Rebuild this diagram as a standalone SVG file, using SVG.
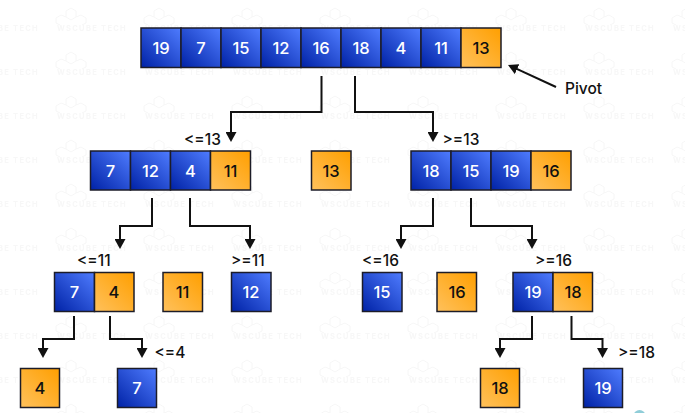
<svg xmlns="http://www.w3.org/2000/svg" width="685" height="413" viewBox="0 0 685 413">
<style>
text{font-family:"Inter","Liberation Sans",sans-serif}
.c{stroke:#1c1c28;stroke-width:1.5}
.b{fill:url(#bl)}
.o{fill:url(#or)}
.v{font-size:16.500px;font-weight:500;text-anchor:middle;dominant-baseline:central}
.w{fill:#fff}
.k{fill:#111}
.l{font-size:15.500px;font-weight:500;fill:#111}
.cn{fill:none;stroke:#111;stroke-width:2;marker-end:url(#a)}
.wm{fill:none;stroke:#f6f6f6;stroke-width:1}
.wt{font-size:7.500px;font-weight:700;letter-spacing:1.300px;fill:#f7f7f7}
</style>
<defs>
<linearGradient id="bl" x1="0" y1="1" x2="1" y2="0"><stop offset="0" stop-color="#0022a6"/><stop offset="1" stop-color="#4f7cff"/></linearGradient>
<linearGradient id="or" x1="0" y1="1" x2="1" y2="0"><stop offset="0" stop-color="#ffc15c"/><stop offset="1" stop-color="#ff9f00"/></linearGradient>
<marker id="a" markerWidth="10" markerHeight="11" refX="1" refY="5.500" orient="auto" markerUnits="userSpaceOnUse" viewBox="0 0 10 11"><path d="M0 0L10 5.500L0 11Z" fill="#111"/></marker>
<pattern id="wmp" x="50" y="0" width="88" height="44" patternUnits="userSpaceOnUse">
<path class="wm" d="M16 11l5-3 5 3v6l-5 3-5-3zM16 17l-5-2-5 3v5l4 2M26 17l5-2 5 3v5l-4 2"/>
<text class="wt" x="7" y="31">WSCUBE TECH</text>
</pattern>
</defs>
<rect width="685" height="413" fill="#fff"/>
<rect width="685" height="413" fill="url(#wmp)"/>
<circle cx="639.500" cy="416" r="6" fill="#8fcdd8"/>
<g id="connectors">
<path class="cn" d="M321.500 76V112H231V133"/>
<path class="cn" d="M355 76V112H433V133"/>
<path class="cn" d="M152 198V226H120V240"/>
<path class="cn" d="M190 198V226H250V240"/>
<path class="cn" d="M433 198V226H401V240"/>
<path class="cn" d="M471 198V226H532V240"/>
<path class="cn" d="M74 316V339H43V349"/>
<path class="cn" d="M110 316V339H142V349"/>
<path class="cn" d="M532 316V339H500V349"/>
<path class="cn" d="M571.500 316V339H602.500V349"/>
<path class="cn" d="M556 87L516.200 68.700"/>
</g>
<g id="root-array">
<rect class="b c" x="141" y="28" width="40" height="39.500"/><text class="v w" x="161" y="48">19</text>
<rect class="b c" x="181" y="28" width="40" height="39.500"/><text class="v w" x="201" y="48">7</text>
<rect class="b c" x="221" y="28" width="40" height="39.500"/><text class="v w" x="241" y="48">15</text>
<rect class="b c" x="261" y="28" width="40" height="39.500"/><text class="v w" x="281" y="48">12</text>
<rect class="b c" x="301" y="28" width="40" height="39.500"/><text class="v w" x="321" y="48">16</text>
<rect class="b c" x="341" y="28" width="40" height="39.500"/><text class="v w" x="361" y="48">18</text>
<rect class="b c" x="381" y="28" width="40" height="39.500"/><text class="v w" x="401" y="48">4</text>
<rect class="b c" x="421" y="28" width="40" height="39.500"/><text class="v w" x="441" y="48">11</text>
<rect class="o c" x="461" y="28" width="40" height="39.500"/><text class="v k" x="481" y="48">13</text>
</g>
<g id="left-array">
<rect class="b c" x="90.500" y="151" width="40" height="39"/><text class="v w" x="110.500" y="171">7</text>
<rect class="b c" x="130.500" y="151" width="40" height="39"/><text class="v w" x="150.500" y="171">12</text>
<rect class="b c" x="170.500" y="151" width="40" height="39"/><text class="v w" x="190.500" y="171">4</text>
<rect class="o c" x="210.500" y="151" width="40" height="39"/><text class="v k" x="230.500" y="171">11</text>
</g>
<g id="pivot-13"><rect class="o c" x="311.500" y="151" width="39.500" height="39"/><text class="v k" x="331" y="171">13</text></g>
<g id="right-array">
<rect class="b c" x="411" y="151" width="40" height="39"/><text class="v w" x="431" y="171">18</text>
<rect class="b c" x="451" y="151" width="40" height="39"/><text class="v w" x="471" y="171">15</text>
<rect class="b c" x="491" y="151" width="40" height="39"/><text class="v w" x="511" y="171">19</text>
<rect class="o c" x="531" y="151" width="40" height="39"/><text class="v k" x="551" y="171">16</text>
</g>
<g id="pair-7-4">
<rect class="b c" x="54.500" y="272.500" width="40" height="39"/><text class="v w" x="74.500" y="292">7</text>
<rect class="o c" x="94.500" y="272.500" width="39.500" height="39"/><text class="v k" x="114" y="292">4</text>
</g>
<g id="pivot-11"><rect class="o c" x="163" y="272.500" width="39.500" height="39"/><text class="v k" x="182.500" y="292">11</text></g>
<g id="leaf-12"><rect class="b c" x="231.500" y="272.500" width="39.500" height="39"/><text class="v w" x="251" y="292">12</text></g>
<g id="leaf-15"><rect class="b c" x="362.500" y="272.500" width="39.500" height="39"/><text class="v w" x="382" y="292">15</text></g>
<g id="pivot-16"><rect class="o c" x="437" y="272.500" width="39.500" height="39"/><text class="v k" x="457" y="292">16</text></g>
<g id="pair-19-18">
<rect class="b c" x="513" y="272.500" width="40" height="39"/><text class="v w" x="533" y="292">19</text>
<rect class="o c" x="553" y="272.500" width="39.500" height="39"/><text class="v k" x="573" y="292">18</text>
</g>
<g id="leaf-4"><rect class="o c" x="20.500" y="368.500" width="39" height="39"/><text class="v k" x="40" y="388">4</text></g>
<g id="leaf-7"><rect class="b c" x="117.500" y="368.500" width="39" height="39"/><text class="v w" x="137" y="388">7</text></g>
<g id="leaf-18"><rect class="o c" x="480.500" y="368.500" width="39" height="39"/><text class="v k" x="500" y="388">18</text></g>
<g id="leaf-19"><rect class="b c" x="583.500" y="368.500" width="39" height="39"/><text class="v w" x="603" y="388">19</text></g>
<g id="labels">
<text class="l" x="184" y="145">&lt;=13</text>
<text class="l" x="442.500" y="145">&gt;=13</text>
<text class="l" x="77" y="266">&lt;=11</text>
<text class="l" x="231" y="266">&gt;=11</text>
<text class="l" x="362" y="266">&lt;=16</text>
<text class="l" x="535" y="266">&gt;=16</text>
<text class="l" x="154.500" y="358">&lt;=4</text>
<text class="l" x="618" y="358">&gt;=18</text>
<text class="l" x="565" y="94">Pivot</text>
</g>
</svg>
